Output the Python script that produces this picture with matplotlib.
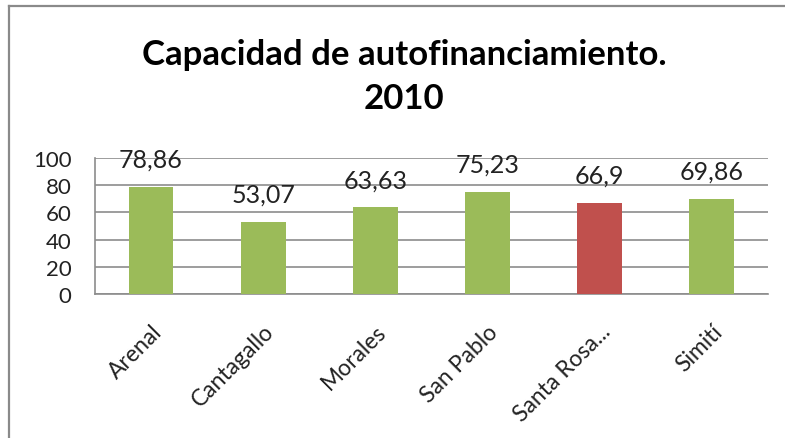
import matplotlib.pyplot as plt
from matplotlib.lines import Line2D

# data
municipios = ["Arenal", "Cantagallo", "Morales", "San Pablo", "Santa Rosa...", "Simití"]
capacidad = [78.86, 53.07, 63.63, 75.23, 66.9, 69.86]
colores = ["#9BBB59", "#9BBB59", "#9BBB59", "#9BBB59", "#C0504D", "#9BBB59"]
y_ticks = [0, 20, 40, 60, 80, 100]

plt.rcParams["font.family"] = ["Lato", "DejaVu Sans"]
gc = "#8C8C8C"

fig = plt.figure(figsize=(7.85, 4.39), dpi=100)
ax = fig.add_axes([0.121, 0.328, 0.857, 0.31])

x = range(len(municipios))
ax.bar(x, capacidad, width=0.4, color=colores, zorder=3)

for xi, v in zip(x, capacidad):
    txt = f"{v:g}".replace(".", ",")
    ax.annotate(txt, (xi, v), xytext=(0, 20), textcoords="offset points",
                ha="center", va="center", fontsize=18, color="#222222", zorder=4)

ax.set_xlim(-0.5, len(municipios) - 0.5)
ax.set_ylim(0, 100)
ax.set_yticks(y_ticks)
ax.set_yticklabels([str(t) for t in y_ticks], fontsize=16, color="#222222")
ax.set_xticks(list(x))
ax.set_xticklabels(municipios, rotation=45, ha="right", va="top",
                   rotation_mode="anchor", fontsize=16.5, color="#222222")
ax.tick_params(axis="y", length=0, pad=17)
ax.tick_params(axis="x", length=0, pad=19)

ax.grid(axis="y", color=gc, linewidth=1.2, zorder=0)
for s in ["top", "right"]:
    ax.spines[s].set_visible(False)
ax.spines["left"].set_color(gc)
ax.spines["bottom"].set_color(gc)
ax.spines["left"].set_linewidth(1.2)
ax.spines["bottom"].set_linewidth(1.2)

# title
fig.text(0.515, 0.875, "Capacidad de autofinanciamiento.", ha="center", va="center",
         fontsize=25, fontweight="bold")
fig.text(0.515, 0.775, "2010", ha="center", va="center",
         fontsize=25, fontweight="bold")

# chart frame (left and top edges)
fig.add_artist(Line2D([0.0115, 0.0115], [0, 0.984], color="#8A8A8A", linewidth=1.6,
                      transform=fig.transFigure))
fig.add_artist(Line2D([0.0115, 1.0], [0.984, 0.984], color="#8A8A8A", linewidth=1.6,
                      transform=fig.transFigure))

fig.savefig("out.png", dpi=100)
